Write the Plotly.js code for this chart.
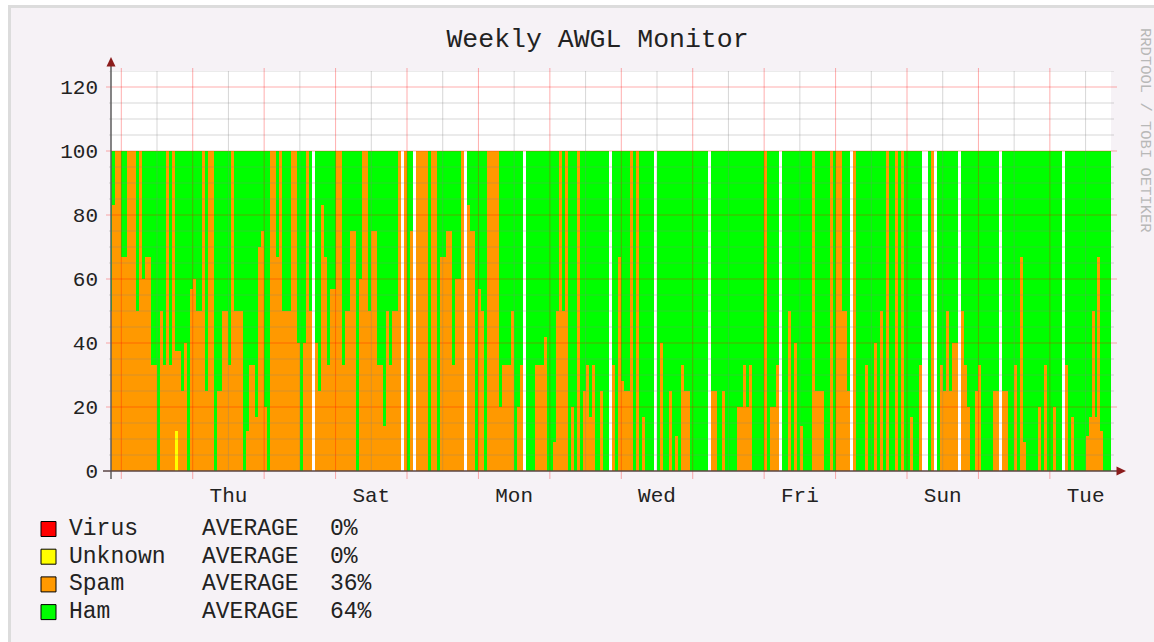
<!DOCTYPE html>
<html><head><meta charset="utf-8">
<script src="https://cdn.plot.ly/plotly-3.0.1.min.js"></script>
<style>
html,body{margin:0;padding:0;background:#fff;width:1154px;height:642px;overflow:hidden}
#bg{position:absolute;left:8px;top:5px;right:0;bottom:0;background:#f6f2f6;border-left:3px solid #dcdcdc;border-top:3px solid #dcdcdc}
#chart{position:absolute;left:0;top:0;width:1154px;height:642px}
</style></head><body><div id="bg"></div><div id="chart"></div>
<script>
// hour index of first sample, hours counted from Wednesday 00:00
const hourStart = -4;
// Spam share (%) per hour; null = no data (white gap)
const spam = [
 50,83,100,100,67,67,100,100,100,50,100,60,67,67,33,33,0,50,33,100,33,100,25,37.5,25,40,0,57,60,50,50,100,25,100,100,0,25,25,50,50,33,100,50,50,50,0,12.5,33,33,17,70,75,20,0,100,100,67,100,50,50,50,100,100,40,0,40,100,
 50,null,40,25,83,67,33,57,57,100,100,33,50,50,75,75,0,60,100,100,50,75,75,33,33,14,50,33,50,50,100,null,100,0,75,null,100,100,100,100,0,100,100,0,67,67,75,75,33,60,60,100,null,83,75,75,0,57,50,0,100,100,100,100,20,33,33,
 33,50,0,20,33,null,0,0,0,33,33,33,42,0,0,9,50,100,50,100,0,20,0,100,0,25,33,17,33,0,0,25,0,0,null,33,0,67,28,25,25,100,0,100,0,17,0,0,0,null,0,40,0,0,25,0,11,0,33,25,25,0,0,0,0,0,0,
 null,25,25,0,0,25,0,0,0,0,20,20,33,20,33,0,0,0,0,100,0,20,20,33,null,0,0,50,0,40,0,14,0,0,0,100,25,25,25,0,0,100,0,100,100,50,50,25,null,100,0,0,0,33,0,0,40,0,50,0,100,0,0,100,0,100,0,
 0,17,0,0,33,null,null,0,100,null,0,33,25,50,25,40,40,null,50,33,20,0,0,25,33,0,0,0,0,25,25,null,25,25,0,0,33,0,67,9,0,0,0,0,20,0,33,0,0,20,0,0,null,33,0,17,0,0,0,0,11,17,50,17,67,12.5,0,0,0
];
// Unknown share (%) at the few hours where it appears
const unknownHours = [18];
const unknownValues = [12.5];

const dayTickHours = [36, 84, 132, 180, 228, 276, 324];
const dayTickLabels = ['Thu', 'Sat', 'Mon', 'Wed', 'Fri', 'Sun', 'Tue'];
const yTickValues = [0, 20, 40, 60, 80, 100, 120];

const legendNames = ['Virus', 'Unknown', 'Spam', 'Ham'];
const legendColors = ['#ff0000', '#ffff00', '#ff9900', '#00ff00'];
const legendFunction = ['AVERAGE', 'AVERAGE', 'AVERAGE', 'AVERAGE'];
const legendAverages = ['0%', '0%', '36%', '64%'];

const FONT = 'Liberation Mono, DejaVu Sans Mono, monospace';

const xs = [], unk = [], ham = [];
spam.forEach((s, i) => {
  const h = hourStart + i;
  xs.push(h + 0.5);
  const k = unknownHours.indexOf(h);
  const u = (s === null) ? null : (k >= 0 ? unknownValues[k] : 0);
  unk.push(u);
  ham.push(s === null ? null : 100 - s - u);
});

const barBase = {type: 'bar', x: xs, width: 1, marker: {line: {width: 0}}, hoverinfo: 'skip'};
const traces = [
  Object.assign({}, barBase, {name: 'Unknown', y: unk, marker: {color: legendColors[1], line: {width: 0}}}),
  Object.assign({}, barBase, {name: 'Spam', y: spam, marker: {color: legendColors[2], line: {width: 0}}}),
  Object.assign({}, barBase, {name: 'Ham', y: ham, marker: {color: legendColors[3], line: {width: 0}}})
];

// plot geometry (px) used to express paper coords
const L = 111, T = 71, W = 1000, H = 400;
const px = v => (v - L) / W;
const py = v => (T + H - v) / H;

const shapes = [];
const MINOR = 'rgba(130,130,130,0.32)', MAJOR = 'rgba(255,0,0,0.32)';
for (let v = 5; v <= 125; v += 5) {
  if (v % 20 === 0) continue;
  shapes.push({type: 'line', layer: 'above', xref: 'paper', yref: 'y', x0: px(109), x1: px(1114), y0: v, y1: v, line: {color: MINOR, width: 1}});
}
yTickValues.slice(1).forEach(v => shapes.push({type: 'line', layer: 'above', xref: 'paper', yref: 'y', x0: px(106), x1: px(1117), y0: v, y1: v, line: {color: MAJOR, width: 1}}));
for (let h = -12; h <= 336; h += 24) {
  if (h > -3.46 && h < 332.5) shapes.push({type: 'line', layer: 'above', xref: 'x', yref: 'paper', x0: h, x1: h, y0: py(471), y1: py(71), line: {color: MINOR, width: 1}});
}
for (let h = 0; h <= 336; h += 24) {
  if (h < 332.5) shapes.push({type: 'line', layer: 'above', xref: 'x', yref: 'paper', x0: h, x1: h, y0: py(479), y1: py(68), line: {color: MAJOR, width: 1}});
}
// axes
shapes.push({type: 'line', layer: 'above', xref: 'paper', yref: 'paper', x0: 0, x1: 0, y0: py(479), y1: py(63), line: {color: '#5c5c5c', width: 1.5}});
shapes.push({type: 'line', layer: 'above', xref: 'paper', yref: 'paper', x0: px(103), x1: px(1119), y0: 0, y1: 0, line: {color: '#5a4444', width: 1.5}});
shapes.push({type: 'path', layer: 'above', xref: 'paper', yref: 'paper',
  path: `M${px(111)},${py(57)} L${px(106.5)},${py(66.5)} L${px(115.5)},${py(66.5)} Z`, fillcolor: '#8b1c1c', line: {width: 0}});
shapes.push({type: 'path', layer: 'above', xref: 'paper', yref: 'paper',
  path: `M${px(1126)},${py(471)} L${px(1116.5)},${py(466.5)} L${px(1116.5)},${py(475.5)} Z`, fillcolor: '#8b1c1c', line: {width: 0}});

const annotations = [];
legendNames.forEach((n, i) => {
  const cy = 529 + i * 27.7;
  shapes.push({type: 'rect', xref: 'paper', yref: 'paper', x0: px(41), x1: px(56), y0: py(cy - 7.5), y1: py(cy + 7.5), fillcolor: legendColors[i], line: {color: '#000', width: 1}});
  const f = {family: FONT, size: 23, color: '#222'};
  annotations.push({xref: 'paper', yref: 'paper', x: px(67), y: py(cy), xanchor: 'left', yanchor: 'middle', text: n, showarrow: false, font: f});
  annotations.push({xref: 'paper', yref: 'paper', x: px(200), y: py(cy), xanchor: 'left', yanchor: 'middle', text: legendFunction[i], showarrow: false, font: f});
  annotations.push({xref: 'paper', yref: 'paper', x: px(328), y: py(cy), xanchor: 'left', yanchor: 'middle', text: legendAverages[i], showarrow: false, font: f});
});
annotations.push({xref: 'paper', yref: 'paper', x: px(1145), y: py(130), xanchor: 'center', yanchor: 'middle', textangle: 90,
  text: 'RRDTOOL / TOBI OETIKER', showarrow: false, font: {family: FONT, size: 15.5, color: '#b8b8b8'}});

const layout = {
  width: 1154, height: 642,
  margin: {l: L, r: 1154 - L - W, t: T, b: 642 - T - H, pad: 0},
  paper_bgcolor: 'rgba(0,0,0,0)', plot_bgcolor: '#ffffff',
  barmode: 'stack', bargap: 0, showlegend: false,
  title: {text: 'Weekly AWGL Monitor', font: {family: FONT, size: 26.5, color: '#222'}, xref: 'paper', x: px(597.5), xanchor: 'center', yref: 'container', y: 1 - 38 / 642, yanchor: 'middle'},
  xaxis: {range: [-3.46, 332.54], tickmode: 'array', tickvals: dayTickHours, ticktext: dayTickLabels, showgrid: false, zeroline: false, showline: false, ticks: '', ticklabelstandoff: 9, tickfont: {family: FONT, size: 21, color: '#222'}, fixedrange: true},
  yaxis: {range: [0, 125], tickmode: 'array', tickvals: yTickValues, showgrid: false, zeroline: false, showline: false, ticks: '', ticklabelstandoff: 12, tickfont: {family: FONT, size: 21, color: '#222'}, fixedrange: true},
  shapes: shapes, annotations: annotations
};
Plotly.newPlot('chart', traces, layout, {displayModeBar: false, staticPlot: true});
</script></body></html>
